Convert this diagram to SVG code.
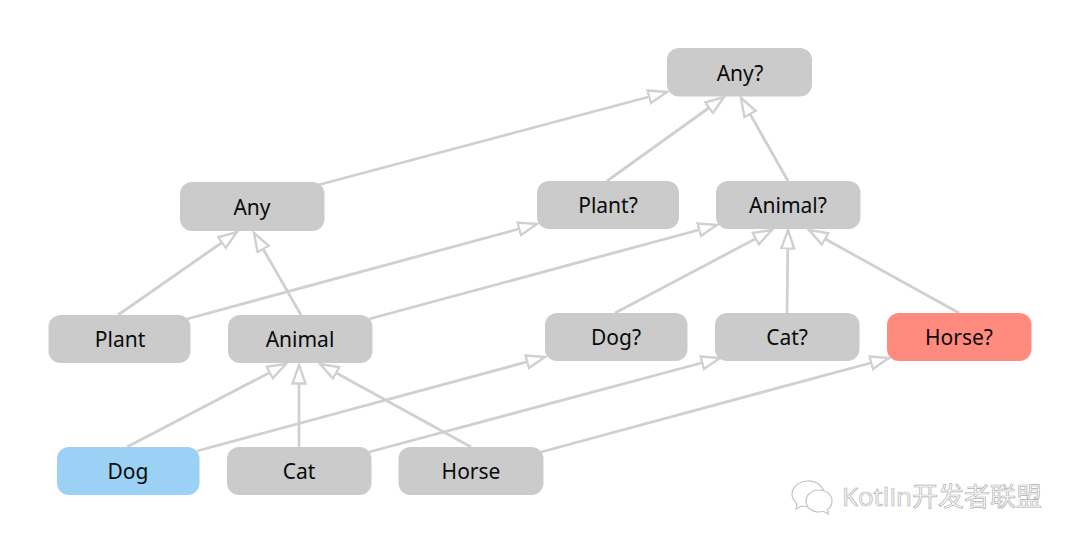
<svg xmlns="http://www.w3.org/2000/svg" width="1080" height="544" viewBox="0 0 1080 544">
<style>
.n{fill:#cbcbcb}
text{font-family:"Noto Sans","Open Sans","Liberation Sans",sans-serif;font-size:21px;fill:#0a0a0a;text-anchor:middle}
.c line{stroke:#d0d0d0;stroke-width:2.800;fill:none;marker-end:url(#tri)}
.wm{font-family:"Open Sans","Noto Sans CJK SC",sans-serif;font-size:26px;fill:#fdfdfd;stroke:#b0b0b0;stroke-width:.7;text-anchor:start}
.ic{fill:#fff;stroke:#c4c4c4;stroke-width:1.2}
</style>
<defs>
<marker id="tri" markerUnits="userSpaceOnUse" markerWidth="24" markerHeight="18" refX="19.5" refY="8" orient="auto">
<path d="M1 1.500L19.500 8L1 14.500Z" fill="#fff" stroke="#d0d0d0" stroke-width="2.400"/>
</marker>
</defs>
<rect width="1080" height="544" fill="#fff"/>
<g class="c" id="connectors">
<line x1="318" y1="185" x2="667" y2="92"/>
<line x1="607" y1="181" x2="724" y2="97"/>
<line x1="788" y1="181" x2="741" y2="98"/>
<line x1="118" y1="315" x2="237" y2="232"/>
<line x1="301" y1="315" x2="254" y2="233"/>
<line x1="187" y1="319" x2="537" y2="224"/>
<line x1="369" y1="319" x2="717" y2="225"/>
<line x1="615" y1="313" x2="772" y2="230"/>
<line x1="787" y1="313" x2="788" y2="230"/>
<line x1="959" y1="313" x2="809" y2="230"/>
<line x1="127" y1="447" x2="286" y2="364"/>
<line x1="299" y1="447" x2="299" y2="365"/>
<line x1="471" y1="447" x2="320" y2="364"/>
<line x1="197" y1="451" x2="545" y2="357"/>
<line x1="369" y1="452" x2="720" y2="358"/>
<line x1="541" y1="452" x2="889" y2="358"/>
</g>
<g id="any-q"><rect class="n" x="667" y="48" width="145" height="48.500" rx="12"/><text x="740" y="81">Any?</text></g>
<g id="any"><rect class="n" x="180" y="182" width="144.500" height="49" rx="12"/><text x="252" y="215">Any</text></g>
<g id="plant-q"><rect class="n" x="537" y="181" width="142" height="48" rx="12"/><text x="608" y="213">Plant?</text></g>
<g id="animal-q"><rect class="n" x="716" y="181" width="144.500" height="48" rx="12"/><text x="788" y="213">Animal?</text></g>
<g id="plant"><rect class="n" x="48.500" y="315" width="142" height="48" rx="12"/><text x="120" y="347">Plant</text></g>
<g id="animal"><rect class="n" x="228" y="315" width="144.500" height="48" rx="12"/><text x="300" y="347">Animal</text></g>
<g id="dog-q"><rect class="n" x="545" y="313" width="142.500" height="48" rx="12"/><text x="616" y="345">Dog?</text></g>
<g id="cat-q"><rect class="n" x="715" y="313" width="144.500" height="48" rx="12"/><text x="787" y="345">Cat?</text></g>
<g id="horse-q"><rect x="887" y="313" width="144.500" height="48" rx="12" fill="#ff8b7e"/><text x="959" y="345">Horse?</text></g>
<g id="dog"><rect x="57" y="447" width="142.500" height="48" rx="12" fill="#9ad1f5"/><text x="128" y="479">Dog</text></g>
<g id="cat"><rect class="n" x="227" y="447" width="144.500" height="48" rx="12"/><text x="299" y="479">Cat</text></g>
<g id="horse"><rect class="n" x="398.500" y="447" width="145" height="48" rx="12"/><text x="471" y="479">Horse</text></g>
<g id="watermark">
<path class="ic" d="M808 481c-9 0-16 6-16 13c0 4 2 7 5 10l-1 5l6-3c2 .6 4 .8 6 .8c9 0 16-6 16-13s-7-13-16-13z"/>
<path class="ic" d="M819 490c-7.500 0-13 5-13 11s5.500 11 13 11c1.500 0 3-.2 4.500-.7l5 2.700l-1-4.500c2.700-2 4.500-5 4.500-8.500c0-6-5.500-11-13-11z"/>
<text class="wm" x="842" y="506">Kotlin开发者联盟</text>
</g>
</svg>
